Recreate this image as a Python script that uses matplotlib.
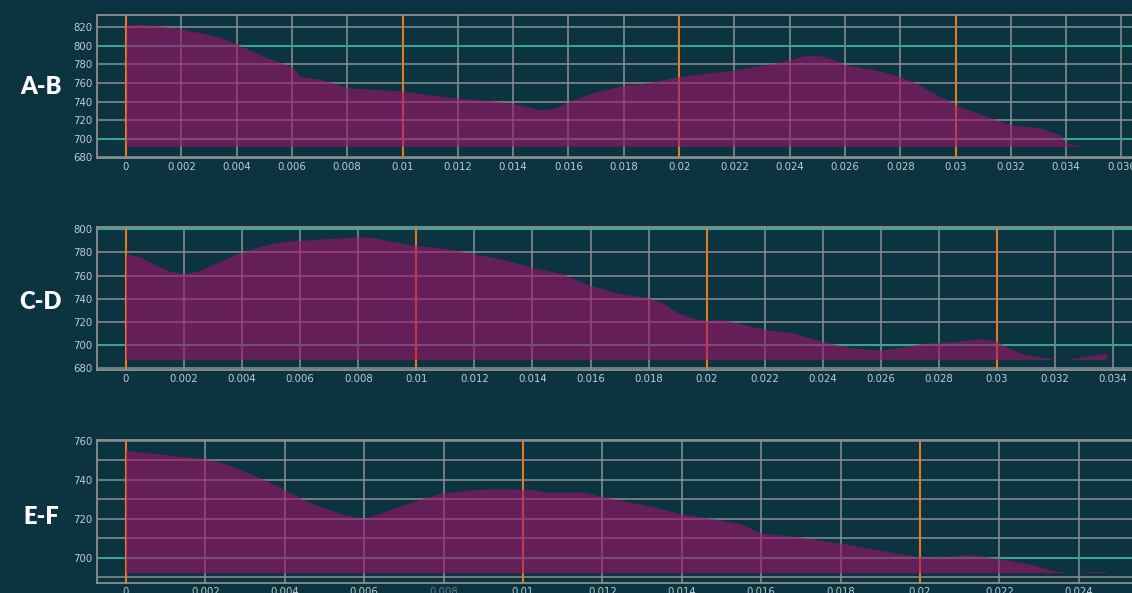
import matplotlib
matplotlib.use("Agg")
import matplotlib.pyplot as plt
from matplotlib.ticker import FuncFormatter, MultipleLocator
import numpy as np

# ---------------- data ----------------
labels = ["A-B", "C-D", "E-F"]

ab_x = [0, 0.0005, 0.001, 0.0015, 0.002, 0.0025, 0.003, 0.0035, 0.004, 0.0045, 0.005, 0.0055,
        0.006, 0.0063, 0.007, 0.0075, 0.008, 0.009, 0.01, 0.011, 0.012, 0.013, 0.014, 0.0145,
        0.015, 0.0155, 0.016, 0.017, 0.018, 0.019, 0.02, 0.021, 0.022, 0.023, 0.024, 0.0245,
        0.025, 0.0255, 0.026, 0.0274, 0.028, 0.0286, 0.0292, 0.0298, 0.03, 0.031, 0.032, 0.033,
        0.0338, 0.034, 0.0346, 0.0352]
ab_y = [822, 823, 822, 820, 818, 815, 812, 808, 802, 795, 788, 783,
        777, 767, 764, 760, 755, 753, 751.5, 747, 743.5, 741.5, 738, 734.5,
        731, 733, 740, 750.5, 757.5, 761, 767, 770.5, 774, 779, 784.5, 789,
        790, 786, 780, 772, 766.5, 759.5, 749, 740, 736, 725.5, 715, 712,
        704, 695, 692, 691]

cd_x = [0, 0.0005, 0.001, 0.0015, 0.002, 0.0025, 0.003, 0.004, 0.005, 0.0055, 0.006, 0.007,
        0.008, 0.0085, 0.009, 0.01, 0.011, 0.012, 0.013, 0.014, 0.015, 0.016, 0.017, 0.018,
        0.0185, 0.019, 0.0195, 0.02, 0.0205, 0.021, 0.022, 0.023, 0.024, 0.025, 0.026, 0.0266,
        0.0275, 0.028, 0.0287, 0.0294, 0.03, 0.0304, 0.031, 0.032, 0.0324, 0.033, 0.0338]
cd_y = [778.5, 776, 769, 763.5, 761, 763.5, 769, 780, 787, 789, 790, 791.5,
        793, 792.5, 790, 785.5, 783, 778.5, 773.5, 766.5, 761.5, 751, 744, 740.5,
        736, 727.5, 723, 720.5, 721.5, 719, 713, 710, 702.5, 697, 695, 697,
        701, 701.5, 703, 705, 703, 697, 691, 687.5, 686, 689.5, 692.5]

ef_x = [0, 0.001, 0.002, 0.0025, 0.003, 0.0035, 0.004, 0.0045, 0.005, 0.0055, 0.006, 0.0063,
        0.007, 0.0075, 0.008, 0.0087, 0.0093, 0.01, 0.0103, 0.0106, 0.0115, 0.012, 0.0132,
        0.014, 0.015, 0.0155, 0.016, 0.017, 0.018, 0.019, 0.02, 0.0207, 0.0212, 0.0216,
        0.022, 0.0229, 0.0234, 0.0238, 0.024, 0.0243, 0.0247]
ef_y = [754.8, 752.6, 750.4, 748, 744, 739.7, 734.6, 729.4, 725.3, 721.7, 720, 721.7,
        726.8, 730.3, 732.9, 734.6, 735.1, 734.9, 734.6, 733.4, 733.5, 731.1, 726.3,
        722.2, 719.1, 717, 712.4, 710.3, 707.2, 703.6, 700.2, 700.5, 701.4, 700.5,
        699.3, 695.9, 693, 691.8, 691.5, 692.4, 692.4]

xs = [ab_x, cd_x, ef_x]
ys = [ab_y, cd_y, ef_y]
baselines = [692, 687, 692]
teal_levels = [[800, 700], [800, 700], [700]]
orange_levels = [[0, 0.01, 0.02, 0.03], [0, 0.01, 0.02, 0.03], [0, 0.01, 0.02]]
xlims = [(-0.00105, 0.03638), (-0.001, 0.03465), (-0.00073, 0.02534)]
ylims = [(679.4, 833), (678.3, 802), (687.0, 760.4)]
x_steps = [0.002, 0.002, 0.002]
y_major = [20, 20, 20]
y_minor = [20, 20, 10]

# ---------------- style ----------------
BG = "#0b3340"
GRID = "#8d9191"
TEAL = "#3aa58c"
ORANGE = "#e07b24"
FILL = "#a1126b"
TICK_TXT = "#c4ccd0"

fig = plt.figure(figsize=(11.32, 5.93), dpi=100, facecolor=BG)

H = 593.0
W = 1132.0
boxes = [(15, 158), (227, 370), (440, 583)]
label_y = [87, 302, 517]

for i in range(3):
    top, bot = boxes[i]
    ax = fig.add_axes([97 / W, 1 - bot / H, 1 - 97 / W, (bot - top) / H])
    ax.set_facecolor(BG)
    ax.set_xlim(*xlims[i])
    ax.set_ylim(*ylims[i])

    ax.xaxis.set_major_locator(MultipleLocator(x_steps[i]))
    ax.yaxis.set_major_locator(MultipleLocator(y_major[i]))
    ax.yaxis.set_minor_locator(MultipleLocator(y_minor[i]))
    ax.xaxis.set_major_formatter(FuncFormatter(lambda v, p: "%g" % round(v, 6)))
    ax.yaxis.set_major_formatter(FuncFormatter(lambda v, p: "%g" % v))

    ax.grid(True, which="major", color=GRID, linewidth=1.1, zorder=1)
    ax.grid(True, which="minor", axis="y", color=GRID, linewidth=1.1, zorder=1)
    ax.set_axisbelow(True)

    for lvl in teal_levels[i]:
        ax.axhline(lvl, color=TEAL, linewidth=1.5, zorder=2)
    for lvl in orange_levels[i]:
        ax.axvline(lvl, color=ORANGE, linewidth=1.5, zorder=2)

    x = np.array(xs[i])
    y = np.array(ys[i])
    b = baselines[i]
    ax.fill_between(x, b, np.maximum(y, b), where=y >= b - 0.01, interpolate=True,
                    color=FILL, alpha=0.6, linewidth=0, zorder=3)

    ax.tick_params(axis="both", which="both", length=0, colors=TICK_TXT, labelsize=7.3)
    ax.tick_params(axis="y", pad=3)
    ax.tick_params(axis="x", pad=3)

    for side in ["left", "top", "bottom"]:
        ax.spines[side].set_color(GRID)
        ax.spines[side].set_linewidth(1.3)
    ax.spines["right"].set_visible(False)

    if i == 2:
        fig.canvas.draw()
        for t in ax.get_xticklabels():
            if t.get_text() == "0.008":
                t.set_color("#6d7a80")

    fig.text(41 / W, 1 - label_y[i] / H, labels[i], color="white", fontsize=17,
             fontweight="heavy", family=["Lato", "DejaVu Sans"], ha="center", va="center")

fig.savefig("out.png", dpi=100, facecolor=BG)
